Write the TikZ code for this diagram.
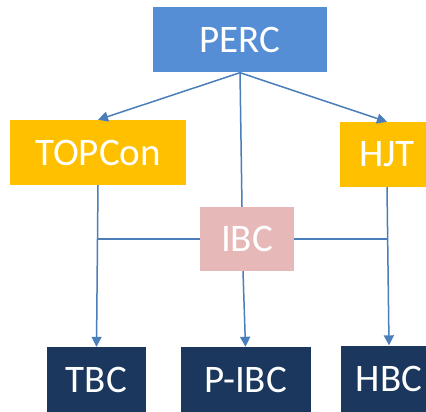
\documentclass[tikz,border=0pt]{standalone}
\usepackage{fontspec}
\setmainfont{Carlito}
\usetikzlibrary{arrows.meta}
\definecolor{percblue}{HTML}{558ED5}
\definecolor{gold}{HTML}{FFC000}
\definecolor{rose}{HTML}{E6B9B8}
\definecolor{navy}{HTML}{1B375E}
\definecolor{linkblue}{HTML}{4A7EBB}
\tikzset{
  box/.style={inner sep=0pt, text=white, font=\fontsize{39}{39}\selectfont},
  link/.style={draw=linkblue, line width=1.5pt},
  arr/.style={link, -{Triangle[length=10pt,width=10pt]}}
}
\begin{document}
\begin{tikzpicture}[x=1pt,y=-1pt]
  \clip (0,0) rectangle (426,412);
  \fill[white] (0,0) rectangle (426,412);
  % source and first generation
  \node[box, fill=percblue, minimum width=174pt, minimum height=65pt] (perc) at (240,40) {PERC};
  \node[box, fill=gold, minimum width=176pt, minimum height=65pt] (topcon) at (98,152.5) {TOPCon};
  \node[box, fill=gold, minimum width=95pt, minimum height=65pt] (hjt) at (387,154.5) {HJT};
  \node[box, fill=rose, minimum width=94pt, minimum height=64pt] (ibc) at (247,239) {IBC};
  % back-contact variants
  \node[box, fill=navy, minimum width=99pt, minimum height=66pt] (tbc) at (96.5,380) {TBC};
  \node[box, fill=navy, minimum width=130pt, minimum height=66pt] (pibc) at (245.5,380) {P-IBC};
  \node[box, fill=navy, minimum width=97pt, minimum height=66pt] (hbc) at (389,378.5) {HBC};
  % connectors
  \draw[arr] (perc.south) -- (topcon.north);
  \draw[arr] (perc.south) -- (hjt.north);
  \draw[link] (perc.south) -- ([xshift=-5pt]ibc.north);
  \draw[arr] ([xshift=-4pt]ibc.south) -- (pibc.north);
  \draw[arr] (topcon.south) -- (tbc.north);
  \draw[arr] (hjt.south) -- (hbc.north);
  \draw[link] (ibc.west) -- (ibc.west -| topcon.south);
  \draw[link] (ibc.east) -- (ibc.east -| hjt.south);
\end{tikzpicture}
\end{document}
